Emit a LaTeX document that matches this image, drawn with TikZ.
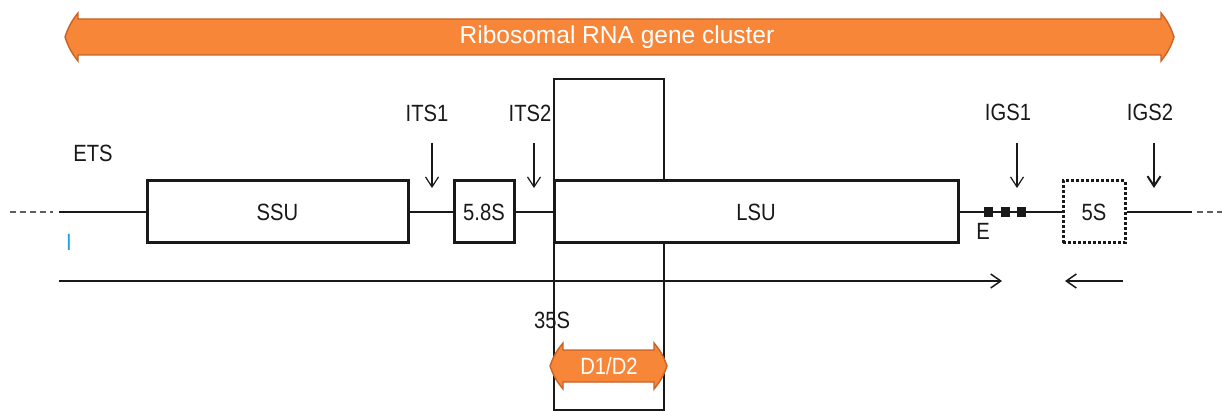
\documentclass[tikz,border=0pt]{standalone}
\usepackage{fontspec}
\setmainfont{Liberation Sans}
\newfontfamily\lblfont[FakeStretch=0.86]{Liberation Sans}
\usetikzlibrary{arrows.meta}
\definecolor{orfill}{RGB}{248,134,56}
\definecolor{ordraw}{RGB}{200,98,38}
\definecolor{lblblue}{RGB}{30,160,220}
\definecolor{ink}{RGB}{25,25,25}
\tikzset{
  lbl/.style={text=ink,font=\lblfont\fontsize{23.5}{26}\selectfont,inner sep=0pt},
  genebox/.style={draw=ink,line width=3pt,fill=white,minimum height=62pt,inner sep=0pt,
    font=\lblfont\fontsize{23.5}{26}\selectfont,text=ink},
  dotbox/.style={genebox,dash pattern=on 3pt off 2pt},
  strand/.style={draw=ink,line width=1.6pt},
  dashstrand/.style={draw=ink!70,line width=1.6pt,dash pattern=on 6pt off 4pt},
  pointer/.style={draw=ink,line width=1.2pt,-{Straight Barb[length=10pt,width=13pt]}},
  readarrow/.style={draw=ink,line width=1.5pt,-{Straight Barb[length=10pt,width=14pt]}},
  orarrow/.style={fill=orfill,draw=ordraw,line width=1.4pt},
  spacer/.style={fill=ink,minimum width=9pt,minimum height=10pt,inner sep=0pt}
}
\begin{document}
\begin{tikzpicture}[x=1pt,y=-1pt]
\useasboundingbox (0,0) rectangle (1222,411);
% big orange double arrow
\draw[orarrow] (78,19) -- (1161,19) -- (1161,13) to[bend left=10] (1174,37)
  to[bend left=10] (1161,61) -- (1161,55) -- (78,55) -- (78,61)
  to[bend left=10] (65,37) to[bend left=10] (78,13) -- cycle;
\node[text=white,font=\fontsize{24.5}{28}\selectfont,inner sep=0pt] (cluster) at (617,37) {Ribosomal RNA gene cluster};
% D1/D2 window
\node[draw=ink,line width=1.5pt,minimum width=110pt,minimum height=331pt,inner sep=0pt] (win) at (609,244.5) {};
% gene boxes
\node[genebox,minimum width=261pt] (ssu) at (277.5,212) {SSU};
\node[genebox,minimum width=60pt] (s58) at (484,212) {5.8S};
\node[genebox,minimum width=404pt] (lsu) at (756,212) {LSU};
\node[dotbox,minimum width=62pt] (s5) at (1094,212) {5S};
% strand
\coordinate (l0) at (10,212);
\coordinate (l1) at (53,212);
\coordinate (l2) at (59,212);
\coordinate (r1) at (1192,212);
\coordinate (r2) at (1197,212);
\coordinate (r3) at (1222,212);
\draw[dashstrand] (l0) -- (l1);
\draw[dashstrand] (r2) -- (r3);
\draw[strand] (l2) -- (ssu.west);
\draw[strand] (ssu.east) -- (s58.west);
\draw[strand] (s58.east) -- (lsu.west);
\draw[strand] (lsu.east) -- (s5.west);
\draw[strand] (s5.east) -- (r1);
\node[spacer] (q1) at (988,212) {};
\node[spacer] (q2) at (1005,212) {};
\node[spacer] (q3) at (1021,212) {};
% labels
\node[lbl] (ets) at (93,153) {ETS};
\node[lbl] (its1) at (427,113) {ITS1};
\node[lbl] (its2) at (530,113) {ITS2};
\node[lbl] (igs1) at (1008,112) {IGS1};
\node[lbl] (igs2) at (1150,112) {IGS2};
\node[lbl,text=lblblue] (iI) at (69,242) {I};
\node[lbl] (eE) at (983,231) {E};
\node[lbl] (s35) at (552,320) {35S};
% pointers
\coordinate (p1a) at (432,143); \coordinate (p1b) at (432,188);
\coordinate (p2a) at (534,143); \coordinate (p2b) at (534,188);
\coordinate (p3a) at (1017,143); \coordinate (p3b) at (1017,188);
\coordinate (p4a) at (1154,143); \coordinate (p4b) at (1154,188);
\draw[pointer] (p1a) -- (p1b);
\draw[pointer] (p2a) -- (p2b);
\draw[pointer] (p3a) -- (p3b);
\draw[pointer,line width=2pt] (p4a) -- (p4b);
% transcription arrows
\coordinate (t1a) at (59,281); \coordinate (t1b) at (1002,281);
\coordinate (t2a) at (1123,281); \coordinate (t2b) at (1065,281);
\draw[readarrow] (t1a) -- (t1b);
\draw[readarrow] (t2a) -- (t2b);
% D1/D2 orange arrow
\draw[orarrow] (563,350) -- (654,350) -- (654,343) to[bend left=10] (667,366)
  to[bend left=10] (654,389) -- (654,382) -- (563,382) -- (563,389)
  to[bend left=10] (550,366) to[bend left=10] (563,343) -- cycle;
\node[text=white,font=\lblfont\fontsize{23.5}{26}\selectfont,inner sep=0pt] (d12) at (609,366) {D1/D2};
\end{tikzpicture}
\end{document}
